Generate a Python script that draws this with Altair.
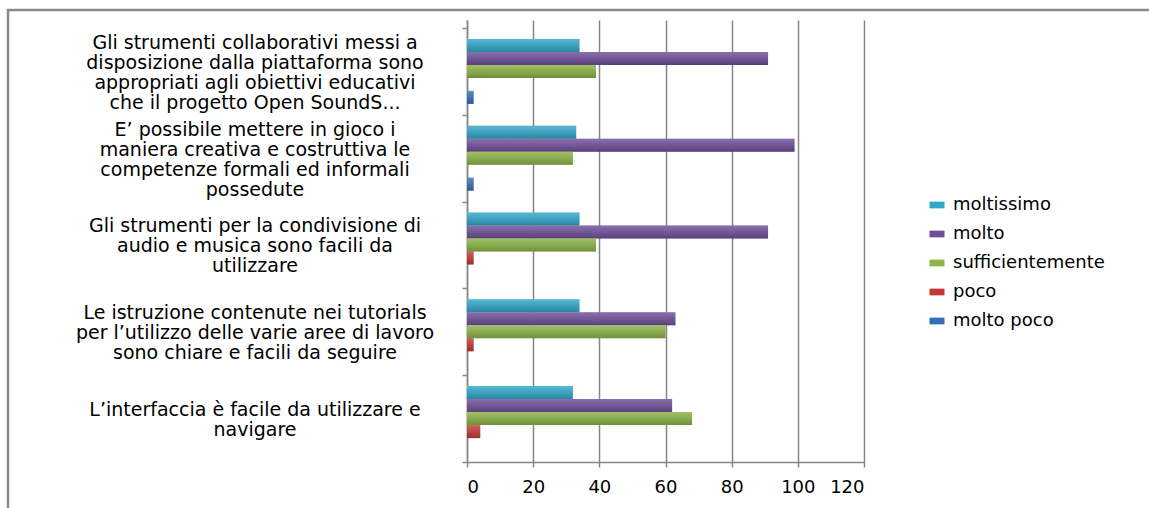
import altair as alt
import pandas as pd

# Survey statements (line breaks marked with "|")
questions = [
    "Gli strumenti collaborativi messi a|disposizione dalla piattaforma sono|appropriati  agli obiettivi educativi|che il progetto Open SoundS...",
    "E’ possibile mettere in gioco i|maniera creativa e costruttiva le|competenze formali ed informali|possedute",
    "Gli strumenti per la condivisione di|audio e musica sono facili da|utilizzare",
    "Le istruzione contenute nei tutorials|per l’utilizzo delle varie aree di lavoro|sono chiare e facili da seguire",
    "L’interfaccia è facile da utilizzare e|navigare",
]
levels = ["moltissimo", "molto", "sufficientemente", "poco", "molto poco"]

moltissimo = [34, 33, 34, 34, 32]
molto = [91, 99, 91, 63, 62]
sufficientemente = [39, 32, 39, 60, 68]
poco = [0, 0, 2, 2, 4]
molto_poco = [2, 2, 0, 0, 0]

colors = ["#2FA8CB", "#6F4F9A", "#8CB545", "#C63838", "#3470BA"]
x_ticks = [0, 20, 40, 60, 80, 100, 120]

series = [moltissimo, molto, sufficientemente, poco, molto_poco]
rows = []
for lvl, vals in zip(levels, series):
    for q, v in zip(questions, vals):
        rows.append({"domanda": q, "livello": lvl, "valore": v})
df = pd.DataFrame(rows)
labels_df = pd.DataFrame({"domanda": questions})

FONT = "DejaVu Sans"
GRAY = "#868686"
LINE_H = 20

x_enc = alt.X(
    "valore:Q",
    scale=alt.Scale(domain=[0, 120], nice=False, zero=True),
    axis=alt.Axis(
        values=x_ticks, title=None, grid=True, gridColor=GRAY, gridWidth=1.5,
        domainColor=GRAY, domainWidth=1.5, tickColor=GRAY, tickWidth=1.5,
        tickSize=5, labelPadding=11, labelFont=FONT, labelFontSize=18,
        labelColor="#000000",
    ),
)
y_enc = alt.Y(
    "domanda:N",
    sort=questions,
    scale=alt.Scale(paddingInner=0, paddingOuter=0.046, align=1),
    axis=alt.Axis(
        title=None, labels=False, tickBand="extent", ticks=True, tickSize=5,
        tickColor=GRAY, tickWidth=1.5, domainColor=GRAY, domainWidth=1.5,
    ),
)
yoff_enc = alt.YOffset(
    "livello:N", sort=levels, scale=alt.Scale(paddingInner=0, paddingOuter=0.84)
)

base = alt.Chart(df)

shadow = base.transform_filter("datum.valore > 0").mark_bar(
    color="#000000", opacity=0.12, x2Offset=3
).encode(x=x_enc, y=y_enc, yOffset=yoff_enc)

bars = base.mark_bar().encode(
    x=x_enc,
    y=y_enc,
    yOffset=yoff_enc,
    color=alt.Color(
        "livello:N",
        scale=alt.Scale(domain=levels, range=colors),
        legend=alt.Legend(
            title=None, orient="none", legendX=461, legendY=176,
            symbolType="M-1,-0.45H1V0.45H-1Z", symbolSize=225,
            symbolStrokeWidth=0, labelFont=FONT, labelFontSize=18,
            labelColor="#000000", rowPadding=11, labelOffset=7,
        ),
    ),
)

shade = base.mark_bar(
    fill=alt.Gradient(
        gradient="linear",
        stops=[
            alt.GradientStop(color="rgba(255,255,255,0.18)", offset=0),
            alt.GradientStop(color="rgba(0,0,0,0.2)", offset=1),
        ],
        x1=0, x2=0, y1=0, y2=1,
    )
).encode(x=x_enc, y=y_enc, yOffset=yoff_enc)


def label_layer(n_lines):
    # Multi-line category labels, centred on their band
    return (
        alt.Chart(labels_df)
        .transform_calculate(righe="split(datum.domanda, '|')")
        .transform_filter(f"length(datum.righe) == {n_lines}")
        .mark_text(
            font=FONT, fontSize=19, lineHeight=LINE_H, align="center",
            baseline="middle", color="#000000",
            dy=-(n_lines - 1) * LINE_H / 2 + 1.5,
        )
        .encode(x=alt.value(-212), y=y_enc, text="righe:N")
    )


frame = alt.Chart(pd.DataFrame({"f": [0]})).mark_rect(
    fillOpacity=0, stroke="#8A8A8A", strokeWidth=2.5
).encode(
    x=alt.value(-459), x2=alt.value(720), y=alt.value(-10), y2=alt.value(540)
)

chart = (
    alt.layer(frame, shadow, bars, shade, label_layer(4), label_layer(3), label_layer(2))
    .properties(
        width=397, height=442,
        autosize=alt.AutoSizeParams(type="none"),
        padding={"left": 467, "top": 20, "right": 285, "bottom": 46},
        background="#ffffff",
    )
    .configure_view(stroke=None)
)

chart.save("out.html", embed_options={"renderer": "svg", "actions": False})
